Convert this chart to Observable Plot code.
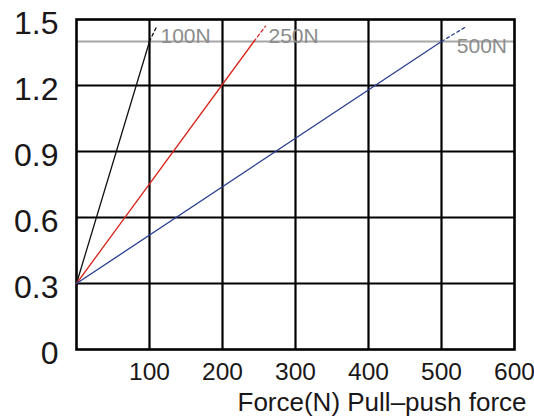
<!DOCTYPE html>
<html>
<head>
<meta charset="utf-8">
<script src="https://cdn.jsdelivr.net/npm/d3@7"></script>
<script src="https://cdn.jsdelivr.net/npm/@observablehq/plot@0.6"></script>
<style>
  html, body { margin: 0; padding: 0; background: #fff; }
</style>
</head>
<body>
<div id="chart"></div>
<script>
// ---- data ----
const seriesNames = ["100N", "250N", "500N"];
const seriesColors = ["#111111", "#d9261c", "#2a3e8f"];
const solidForce = [[0, 100], [0, 243], [0, 500]];
const solidPos   = [[0.3, 1.4], [0.3, 1.4], [0.3, 1.4]];
const dashForce  = [[100, 110], [243, 259], [500, 535]];
const dashPos    = [[1.4, 1.47], [1.4, 1.47], [1.4, 1.47]];
const labelForce = [115, 263, 521];
const limitPos = 1.4;
const xTicks = [100, 200, 300, 400, 500, 600];
const yTicks = [0, 0.3, 0.6, 0.9, 1.2, 1.5];
const yTickLabels = ["0", "0.3", "0.6", "0.9", "1.2", "1.5"];
const xTitle = "Force(N) Pull\u2013push force";

// ---- build tables ----
const solid = [], dashed = [];
seriesNames.forEach((s, i) => {
  solidForce[i].forEach((f, j) => solid.push({s, f, p: solidPos[i][j]}));
  dashForce[i].forEach((f, j) => dashed.push({s, f, p: dashPos[i][j]}));
});
const labels = seriesNames.map((s, i) => ({s, f: labelForce[i], p: limitPos}));

const chart = Plot.plot({
  width: 534,
  height: 417,
  marginLeft: 76,
  marginRight: 20,
  marginTop: 19,
  marginBottom: 68,
  style: {fontFamily: "'Liberation Sans', Arial, Helvetica, sans-serif", color: "#1a1718", background: "#fff"},
  x: {domain: [0, 600]},
  y: {domain: [0, 1.5]},
  color: {domain: seriesNames, range: seriesColors},
  marks: [
    Plot.ruleY([limitPos], {stroke: "#a6a6a6", strokeWidth: 2}),
    Plot.gridX(xTicks.slice(0, 5), {stroke: "#000", strokeOpacity: 1, strokeWidth: 2.2}),
    Plot.gridY(yTicks.slice(1, 5), {stroke: "#000", strokeOpacity: 1, strokeWidth: 2.2}),
    Plot.frame({stroke: "#000", strokeWidth: 2.6}),
    Plot.axisX({ticks: xTicks, tickSize: 0, tickPadding: 13, fontSize: 24.5, label: null}),
    Plot.axisY({ticks: yTicks, tickSize: 0, tickPadding: 18, fontSize: 32, dy: 4,
      tickFormat: (d) => yTickLabels[yTicks.indexOf(d)], label: null}),
    Plot.line(solid, {x: "f", y: "p", z: "s", stroke: "s", strokeWidth: 1.3}),
    Plot.line(dashed, {x: "f", y: "p", z: "s", stroke: "s", strokeWidth: 1.3, strokeDasharray: "3,3"}),
    Plot.text(labels.slice(0, 2), {x: "f", y: "p", text: "s", textAnchor: "start", lineAnchor: "bottom",
      dy: 1, fontSize: 21, fill: "#8c8c8c"}),
    Plot.text(labels.slice(2), {x: "f", y: "p", text: "s", textAnchor: "start", lineAnchor: "bottom",
      dy: 11, fontSize: 21, fill: "#8c8c8c"}),
    Plot.text([xTitle], {frameAnchor: "bottom-right", textAnchor: "end", lineAnchor: "bottom",
      dx: 12, dy: 61, fontSize: 26, fill: "#1a1718"})
  ]
});
document.getElementById("chart").appendChild(chart);
</script>
</body>
</html>
